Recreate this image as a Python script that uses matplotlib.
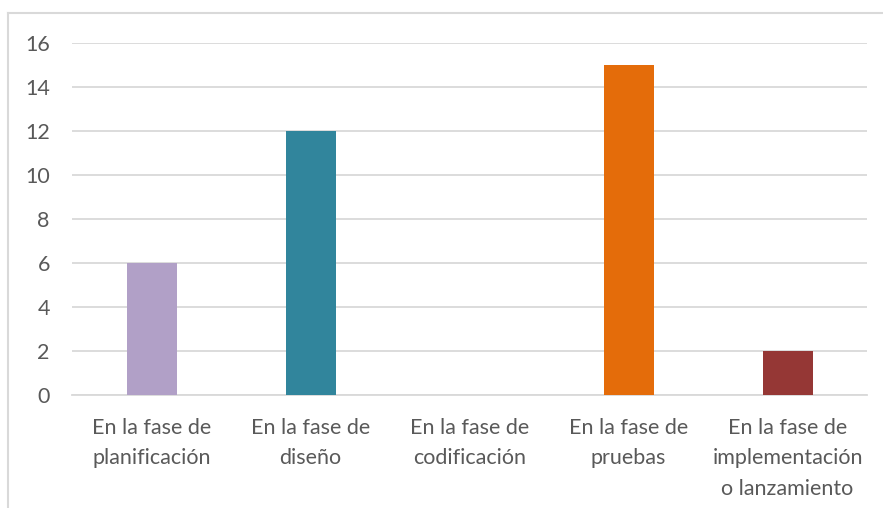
import matplotlib
matplotlib.use("Agg")
import matplotlib.pyplot as plt
from matplotlib.lines import Line2D

categories = ["En la fase de\nplanificación", "En la fase de\ndiseño", "En la fase de\ncodificación",
              "En la fase de\npruebas", "En la fase de\nimplementación\no lanzamiento"]
values = [6, 12, 0, 15, 2]
colors = ["#b1a0c7", "#31859c", "#4bacc6", "#e46c0a", "#953735"]
yticks = [0, 2, 4, 6, 8, 10, 12, 14, 16]

plt.rcParams['font.family'] = ['Lato', 'DejaVu Sans']
fig = plt.figure(figsize=(8.83, 5.08), dpi=100)
ax = fig.add_axes([72/883, 1-395/508, 795/883, 352/508])
x = list(range(len(categories)))
ax.bar(x, values, width=50/159, color=colors, zorder=3)
ax.set_xlim(-0.5, len(categories)-0.5)
ax.set_ylim(0, 16)
ax.set_yticks(yticks)
ax.set_yticklabels([str(t) for t in yticks])
ax.set_xticks(x)
ax.set_xticklabels(categories, linespacing=1.66)
ax.tick_params(axis='both', length=0, colors="#595959", labelsize=15.5)
ax.tick_params(axis='y', pad=16)
ax.tick_params(axis='x', pad=16.5)
ax.grid(axis='y', color="#d9d9d9", linewidth=1.3, zorder=0)
for s in ['top', 'right', 'left']:
    ax.spines[s].set_visible(False)
ax.spines['bottom'].set_color("#d9d9d9")
ax.spines['bottom'].set_linewidth(1.3)
ax.spines['bottom'].set_zorder(1)

fig.add_artist(Line2D([8/883, 8/883], [0, 1-13/508], color="#d9d9d9", linewidth=1.5, transform=fig.transFigure))
fig.add_artist(Line2D([8/883, 1], [1-13/508, 1-13/508], color="#d9d9d9", linewidth=1.5, transform=fig.transFigure))

fig.savefig("out.png", dpi=100)
